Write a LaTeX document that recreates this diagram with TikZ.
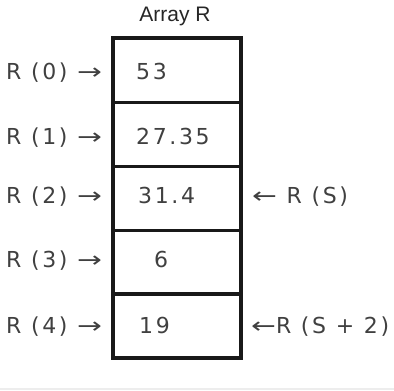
\documentclass[tikz,border=0pt]{standalone}
\usepackage{fontspec}
\setmainfont{Liberation Sans}
\newfontfamily\plotfont[LetterSpace=12]{DejaVu Sans}
% long, thin arrows as in the plotter lettering
\newcommand{\rarr}{\scalebox{1.35}[1]{→}}
\newcommand{\larr}{\scalebox{1.35}[1]{←}}
\begin{document}
\begin{tikzpicture}[x=1pt,y=-1pt,
  cell/.style={draw=black!90, line width=2.6pt, minimum width=127pt,
    minimum height=64pt, inner sep=0pt, anchor=north west},
  val/.style={anchor=base west, inner sep=0pt, text=black!75,
    font=\plotfont\fontsize{22}{24}\selectfont},
  lbl/.style={val},
  title/.style={inner sep=0pt, text=black!85,
    font=\fontsize{21}{24}\selectfont}]
\useasboundingbox (0,0) rectangle (394,391);

% title
\node[title] (title) at (175,16) {Array R};

% the five cells of the array
\node[cell] (c0) at (112,37)  {};
\node[cell] (c1) at (112,101) {};
\node[cell] (c2) at (112,165) {};
\node[cell] (c3) at (112,229) {};
\node[cell] (c4) at (112,292) {};
\draw[line width=2.6pt, draw=black!90] (c0.north west) rectangle (c4.south east);

% stored values, aligned on the decimal point
\node[val] (v0) at (136,79)  {53};
\node[val] (v1) at (136,144) {27.35};
\node[val] (v2) at (138,203) {31.4};
\node[val] (v3) at (154,267) {6};
\node[val] (v4) at (139,333) {19};

% element names on the left
\node[lbl] (l0) at (6,79)  {R (0) \rarr};
\node[lbl] (l1) at (6,144) {R (1) \rarr};
\node[lbl] (l2) at (6,203) {R (2) \rarr};
\node[lbl] (l3) at (6,267) {R (3) \rarr};
\node[lbl] (l4) at (6,333) {R (4) \rarr};

% index expressions on the right
\node[lbl] (s0) at (252,203) {\larr{} R (S)};
\node[lbl] (s2) at (251,333) {\larr R (S + 2)};

% faint rule at the foot
\draw[black!7, line width=1.5pt] (0,389) -- (394,389);
\end{tikzpicture}
\end{document}
